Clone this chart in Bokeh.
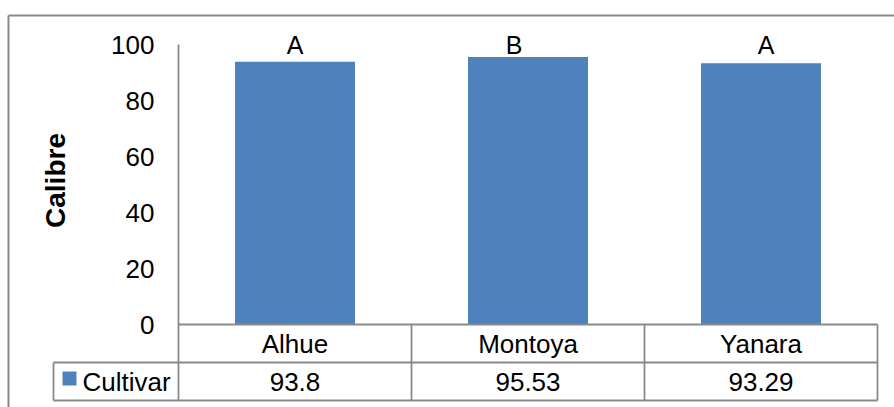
import math
from bokeh.plotting import figure
from bokeh.models import Range1d
from bokeh.embed import file_html
from bokeh.resources import INLINE
from bokeh.core.properties import value

# ---- data ----
categories = ["Alhue", "Montoya", "Yanara"]
calibre = [93.8, 95.53, 93.29]
letters = ["A", "B", "A"]
y_ticks = [0, 20, 40, 60, 80, 100]
y_tick_labels = ["0", "20", "40", "60", "80", "100"]
series_name = "Cultivar"
y_title = "Calibre"

# ---- layout constants (pixels) ----
W, H = 894, 407
PLOT_L = 178          # left edge of plot area / value axis line
Y0_PX, Y100_PX = 324, 44
CAT_PX = 233          # width of one category slot
PPU_Y = (Y0_PX - Y100_PX) / 100.0
BLUE = "#4F81BD"
GRAY = "#898989"
FONT = "Liberation Sans"
FS = "26px"
letter_nudge_px = [0, -14, 5]


def X(px):
    return (px - PLOT_L) / CAT_PX


def Y(py):
    return (Y0_PX - py) / PPU_Y


p = figure(width=W, height=H,
           x_range=Range1d(X(0), X(W)), y_range=Range1d(Y(H), Y(0)),
           x_axis_location=None, y_axis_location=None,
           output_backend="svg", toolbar_location=None,
           min_border_left=0, min_border_right=0, min_border_top=0, min_border_bottom=0)
p.outline_line_color = None
p.xgrid.visible = False
p.ygrid.visible = False
p.background_fill_color = "white"
p.border_fill_color = "white"

n = len(categories)
xs = [i + 0.5 for i in range(n)]
row1 = Y(362)
row2 = Y(400)

# outer chart border (top and left edges visible)
p.segment(x0=[X(8), X(8)], y0=[Y(15), Y(15)], x1=[X(W + 20), X(8)], y1=[Y(15), Y(H + 20)],
          line_color=GRAY, line_width=2)

# bars
p.vbar(x=xs, top=calibre, bottom=0, width=0.515, fill_color=BLUE, line_color=None)

# value axis line (continues down as the table's left border)
p.segment(x0=[0], y0=[row2], x1=[0], y1=[max(y_ticks)], line_color=GRAY, line_width=1.8)

# y tick labels
p.text(x=[X(154)] * len(y_ticks), y=y_ticks, text=y_tick_labels, text_font=value(FONT),
       text_font_size=FS, text_align="right", text_baseline="middle", text_color="black")

# y title
p.text(x=[X(55)], y=[Y(180)], text=[y_title], angle=math.pi / 2, text_font=value(FONT),
       text_font_size="28px", text_font_style="bold", text_align="center",
       text_baseline="middle", text_color="black")

# significance letters
p.text(x=[x + d / CAT_PX for x, d in zip(xs, letter_nudge_px)], y=[Y(44)] * n, text=letters,
       text_font=value(FONT), text_font_size="25px",
       text_align="center", text_baseline="middle", text_color="black")

# data table grid
p.segment(x0=[0, X(53), X(53)], y0=[0, row1, row2], x1=[n, n, n], y1=[0, row1, row2],
          line_color=GRAY, line_width=1.8)
p.segment(x0=list(range(1, n + 1)) + [X(53)], y0=[0] * n + [row1],
          x1=list(range(1, n + 1)) + [X(53)], y1=[row2] * (n + 1),
          line_color=GRAY, line_width=1.8)

# table texts
p.text(x=xs, y=[Y(343)] * n, text=categories, text_font=value(FONT), text_font_size=FS,
       text_align="center", text_baseline="middle", text_color="black")
p.text(x=xs, y=[Y(381)] * n, text=[str(v) for v in calibre], text_font=value(FONT),
       text_font_size=FS, text_align="center", text_baseline="middle", text_color="black")

# legend key of the data table
p.quad(left=[X(62)], right=[X(76)], top=[Y(371)], bottom=[Y(385)],
       fill_color=BLUE, line_color=None)
p.text(x=[X(82)], y=[Y(381)], text=[series_name], text_font=value(FONT), text_font_size=FS,
       text_align="left", text_baseline="middle", text_color="black")

open("out.html", "w").write(file_html(p, INLINE))
